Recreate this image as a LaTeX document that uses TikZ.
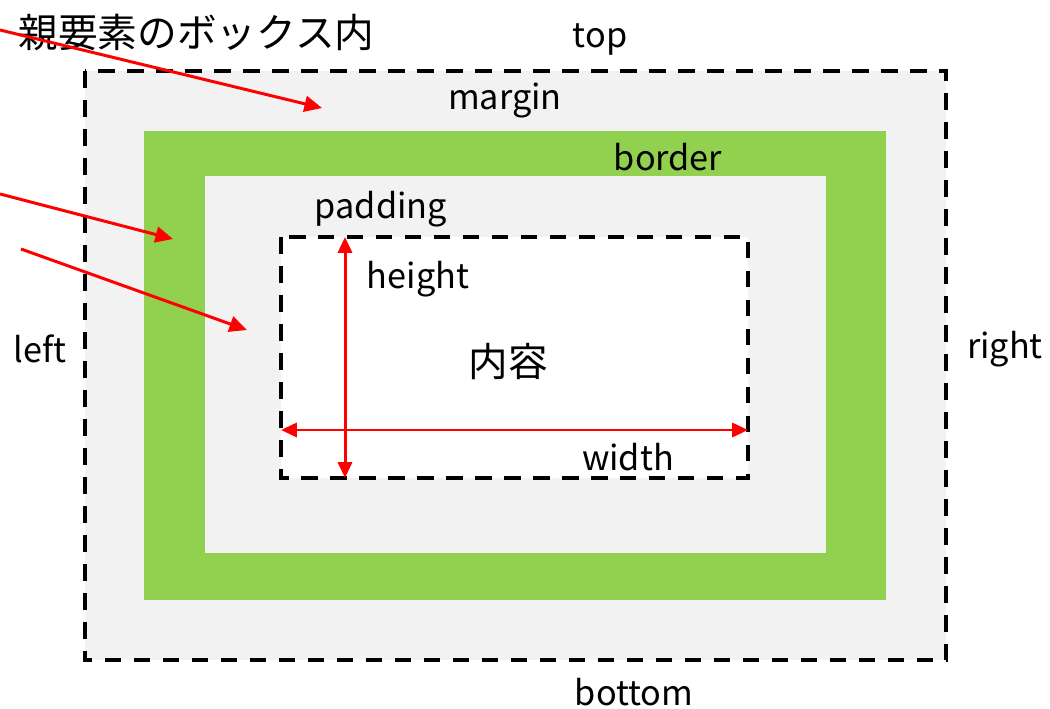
\documentclass[tikz,border=0pt]{standalone}
\usepackage{fontspec}
\setmainfont{Noto Sans CJK JP}
\usepackage{xcolor}
\usetikzlibrary{arrows.meta,positioning,calc}

\definecolor{boxgrey}{HTML}{F2F2F2}
\definecolor{bordergreen}{HTML}{92D050}

\tikzset{
  dashbox/.style={draw=black,line width=2.2pt,dash pattern=on 9.5pt off 7pt},
  redarrow/.style={red,line width=1.7pt,-{Triangle[length=10pt,width=9pt]}},
  dimarrow/.style={red,line width=1.7pt,{Triangle[length=9pt,width=8pt]}-{Triangle[length=9pt,width=8pt]}},
  lbl/.style={font=\fontsize{19.5}{22}\selectfont,inner sep=0pt},
}

\begin{document}
\begin{tikzpicture}[x=0.02cm,y=-0.02cm]
  \useasboundingbox (0,0) rectangle (1050,709);

  % the boxes, from outside in
  \fill[boxgrey] (85,71) rectangle (946,660);
  \fill[bordergreen] (144,131) rectangle (886,600);
  \fill[boxgrey] (205,176) rectangle (826,553);
  \fill[white] (281,237) rectangle (748,478);
  \draw[dashbox] (85,71) rectangle (946,660);
  \draw[dashbox] (281,237) rectangle (748,478);

  \coordinate (htop) at (345,237);
  \coordinate (hbot) at (345,478);
  \coordinate (wleft) at (281,430);
  \coordinate (wright) at (748,430);
  \draw[dimarrow] (htop) -- (hbot);
  \draw[dimarrow] (wleft) -- (wright);

  % labels
  \node[lbl,font=\fontsize{22.6}{25}\selectfont,anchor=west] (parent) at (18,32) {親要素のボックス内};
  \node[lbl] (top) at (600,40) {top};
  \node[lbl] (bottom) at (634,692) {bottom};
  \node[lbl] (left) at (40,349) {left};
  \node[lbl] (right) at (1005,349) {right};
  \node[lbl] (margin) at (505,101) {margin};
  \node[lbl] (border) at (668,157) {border};
  \node[lbl] (padding) at (381,209) {padding};
  \node[lbl] (height) at (418,279) {height};
  \node[lbl] (width) at (628,457) {width};
  \node[lbl,font=\fontsize{22.5}{25}\selectfont] (content) at (508,362) {内容};

  % pointers into the boxes
  \coordinate (s1) at (0,30);
  \coordinate (t1) at (322,108);
  \coordinate (s2) at (0,194);
  \coordinate (t2) at (173,239);
  \coordinate (s3) at (21,249);
  \coordinate (t3) at (247,330);
  \draw[redarrow] (s1) -- (t1);
  \draw[redarrow] (s2) -- (t2);
  \draw[redarrow] (s3) -- (t3);
\end{tikzpicture}
\end{document}
